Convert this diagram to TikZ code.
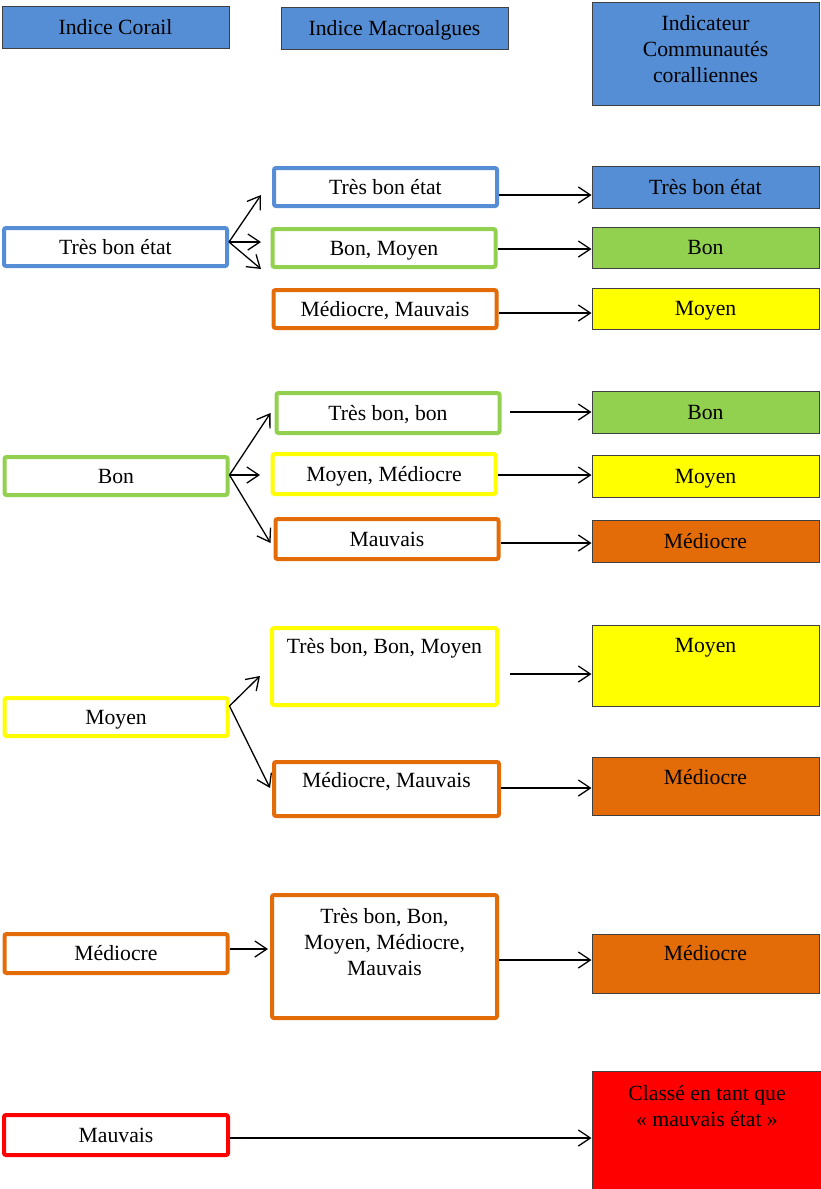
\documentclass[tikz,border=0pt]{standalone}
\usepackage{fontspec}
\setmainfont{Liberation Serif}
\usepackage{tikz}
\usetikzlibrary{arrows,arrows.meta}
\definecolor{cblue}{HTML}{558ED5}
\definecolor{cgreen}{HTML}{92D050}
\definecolor{cyellow}{HTML}{FFFF00}
\definecolor{corange}{HTML}{E36C09}
\definecolor{cred}{HTML}{FF0000}
\tikzstyle{oneline}=[text height=17pt,text depth=3pt]
\tikzstyle{headbox}=[draw=black!75,line width=1pt,minimum width=227pt,minimum height=42pt,inner sep=0pt,align=center,oneline]
\tikzstyle{statebox}=[draw,fill=white,line width=4pt,rounded corners=2pt,minimum width=223pt,minimum height=38pt,inner sep=0pt,align=center,oneline]
\tikzstyle{toptext}=[anchor=center,align=center,inner sep=0pt]

\begin{document}
\begin{tikzpicture}[x=1pt,y=-1pt]
	\tikzstyle{every node}=[font=\fontsize{21.7}{26}\selectfont]
	\tikzstyle{flow}=[->,>={Straight Barb[length=12pt,width=16pt]},line width=1.3pt]
	\useasboundingbox (0,0) rectangle (821,1189);

	\node[headbox,fill=cblue]	(hc) at (115.5,27)	{Indice Corail};
	\node[headbox,fill=cblue]	(hm) at (394.5,28)	{Indice Macroalgues};
	\node[headbox,fill=cblue,minimum height=103pt,label={[toptext,yshift=-47.5pt]north:{Indicateur\\Communautés\\coralliennes}}]	(hi) at (705.5,53.5) {};

	\node[statebox,draw=cblue]	(c1) at (115.5,247)	{Très bon état};
		\node[statebox,draw=cblue]	(m11) at (385.5,187)	{Très bon état};
		\node[statebox,draw=cgreen]	(m12) at (384,248)	{Bon, Moyen};
		\node[statebox,draw=corange]	(m13) at (385,309)	{Médiocre, Mauvais};
		\node[headbox,fill=cblue]	(r11) at (705.5,187)	{Très bon état};
		\node[headbox,fill=cgreen,minimum height=41pt]	(r12) at (705.5,247.5)	{Bon};
		\node[headbox,fill=cyellow,minimum height=41pt]	(r13) at (705.5,308.5)	{Moyen};

	\node[statebox,draw=cgreen]	(c2) at (116,476)	{Bon};
		\node[statebox,draw=cgreen,minimum height=40pt]	(m21) at (388,413)	{Très bon, bon};
		\node[statebox,draw=cyellow,minimum height=40pt]	(m22) at (384,474)	{Moyen, Médiocre};
		\node[statebox,draw=corange,minimum height=40pt]	(m23) at (387,539)	{Mauvais};
		\node[headbox,fill=cgreen]	(r21) at (705.5,412)	{Bon};
		\node[headbox,fill=cyellow]	(r22) at (705.5,476)	{Moyen};
		\node[headbox,fill=corange]	(r23) at (705.5,541)	{Médiocre};

	\node[statebox,draw=cyellow]	(c3) at (116,717)	{Moyen};
		\node[statebox,draw=cyellow,minimum width=225pt,minimum height=77pt,label={[toptext,oneline,yshift=-20pt]north:{Très bon, Bon, Moyen}}]	(m31) at (384.5,666.5) {};
		\node[statebox,draw=corange,minimum width=225pt,minimum height=54pt,label={[toptext,oneline,yshift=-20pt]north:{Médiocre, Mauvais}}]	(m32) at (386.5,789) {};
		\node[headbox,fill=cyellow,minimum height=81pt,label={[toptext,oneline,yshift=-21pt]north:Moyen}]	(r31) at (705.5,665.5) {};
		\node[headbox,fill=corange,minimum height=58pt,label={[toptext,oneline,yshift=-21pt]north:Médiocre}]	(r32) at (705.5,786) {};

	\node[statebox,draw=corange,minimum height=39pt]	(c4) at (116,953.5)	{Médiocre};
		\node[statebox,draw=corange,minimum width=225pt,minimum height=123pt,label={[toptext,yshift=-49pt]north:{Très bon, Bon,\\Moyen, Médiocre,\\Mauvais}}]	(m41) at (384.5,956.5) {};
		\node[headbox,fill=corange,minimum height=59pt,label={[toptext,oneline,yshift=-20pt]north:Médiocre}]	(r41) at (705.5,963.5) {};

	\node[statebox,draw=cred,minimum width=224pt,minimum height=40pt]	(c5) at (116,1135)	{Mauvais};
		\node[headbox,fill=cred,minimum width=230pt,minimum height=124pt,label={[toptext,yshift=-36pt]north:{Classé en tant que\\« mauvais état »}}]	(r51) at (707,1133) {};

\path[flow] ([yshift=5pt]c1.east) edge ([xshift=-11pt,yshift=-8pt]m11.west)
			([yshift=5pt]c1.east) edge ([xshift=-9.5pt,yshift=6pt]m12.west)
			([yshift=5pt]c1.east) edge ([xshift=-9.5pt]m12.south west)
			([yshift=-8pt]m11.east) edge ([yshift=-8pt]r11.west)
			([yshift=-1pt]m12.east) edge ([yshift=-1.5pt]r12.west)
			([yshift=-4pt]m13.east) edge ([yshift=-4.5pt]r13.west);

\path[flow] ([yshift=1pt]c2.east) edge ([xshift=-4pt]m21.west)
			([yshift=1pt]c2.east) edge ([xshift=-10.5pt,yshift=-1pt]m22.west)
			([yshift=1pt]c2.east) edge ([xshift=-3pt,yshift=-4pt]m23.west)
			([xshift=8pt,yshift=1pt]m21.east) edge (r21.west)
			([yshift=-1pt]m22.east) edge ([yshift=1pt]r22.west)
			([yshift=-4pt]m23.east) edge ([yshift=-2pt]r23.west);

\path[flow] ([yshift=11pt]c3.east) edge ([xshift=-10pt,yshift=-9.5pt]m31.west)
			([yshift=11pt]c3.east) edge ([xshift=-2pt,yshift=1pt]m32.west)
			([xshift=11pt,yshift=-7.5pt]m31.east) edge ([yshift=-8.5pt]r31.west)
			([yshift=1pt]m32.east) edge ([yshift=-2pt]r32.west);

\path[flow] ([yshift=4.5pt]c4.east) edge ([xshift=-2pt,yshift=7.5pt]m41.west)
			([yshift=-3.5pt]m41.east) edge ([yshift=3.5pt]r41.west);

\path[flow] ([yshift=-3pt]c5.east) edge ([yshift=-5pt]r51.west);

\end{tikzpicture}
\end{document}
